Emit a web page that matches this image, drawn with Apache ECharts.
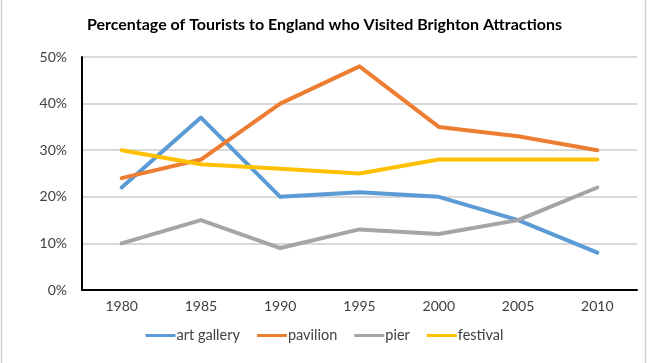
<!DOCTYPE html>
<html><head><meta charset="utf-8">
<script src="https://cdn.jsdelivr.net/npm/echarts@6/dist/echarts.min.js"></script>
<style>html,body{margin:0;padding:0;background:#fff}#c{width:649px;height:363px}</style>
</head><body><div id="c"></div>
<script>
const years = ['1980','1985','1990','1995','2000','2005','2010'];
const artGallery = [22, 37, 20, 21, 20, 15, 8];
const pavilion = [24, 28, 40, 48, 35, 33, 30];
const pier = [10, 15, 9, 13, 12, 15, 22];
const festival = [30, 27, 26, 25, 28, 28, 28];
const seriesNames = ['art gallery','pavilion','pier','festival'];
const colors = ['#5B9BD5','#ED7D31','#A5A5A5','#FFC000'];
const font = 'Lato, "Open Sans", sans-serif';
const chart = echarts.init(document.getElementById('c'));
const mk = (name, data, color) => ({
  name, type:'line', data, symbol:'none', color,
  lineStyle:{width:4, color, cap:'round', join:'round'}
});
chart.setOption({
  animation:false,
  backgroundColor:'#fff',
  title:{text:'Percentage of Tourists to England who Visited Brighton Attractions', left:'center', top:12,
    textStyle:{fontFamily:font, fontSize:16, fontWeight:'bold', color:'#000'}},
  grid:{left:82, right:12, top:57, bottom:73},
  legend:{bottom:15, left:'center', itemWidth:30, itemHeight:3, itemGap:17,
    icon:'rect',
    textStyle:{fontFamily:font, fontSize:14.5, color:'#404040', padding:[0,0,0,-4]},
    data:seriesNames},
  xAxis:{type:'category', data:years, boundaryGap:true,
    axisLine:{lineStyle:{color:'#000', width:2}},
    axisTick:{show:false},
    axisLabel:{fontFamily:font, fontSize:14, color:'#404040', margin:9}},
  yAxis:{type:'value', min:0, max:50, interval:10,
    axisLine:{show:true, lineStyle:{color:'#000', width:2}},
    axisTick:{show:false},
    axisLabel:{fontFamily:font, fontSize:14, color:'#404040', margin:15, formatter:'{value}%'},
    splitLine:{lineStyle:{color:'#D9D9D9', width:2}}},
  graphic:[{type:'rect', shape:{x:1.5, y:-5, width:644, height:375}, style:{fill:'none', stroke:'#D0D0D0', lineWidth:1.5}, silent:true}],
  series:[mk(seriesNames[0], artGallery, colors[0]), mk(seriesNames[1], pavilion, colors[1]),
          mk(seriesNames[2], pier, colors[2]), mk(seriesNames[3], festival, colors[3])]
});
</script></body></html>
